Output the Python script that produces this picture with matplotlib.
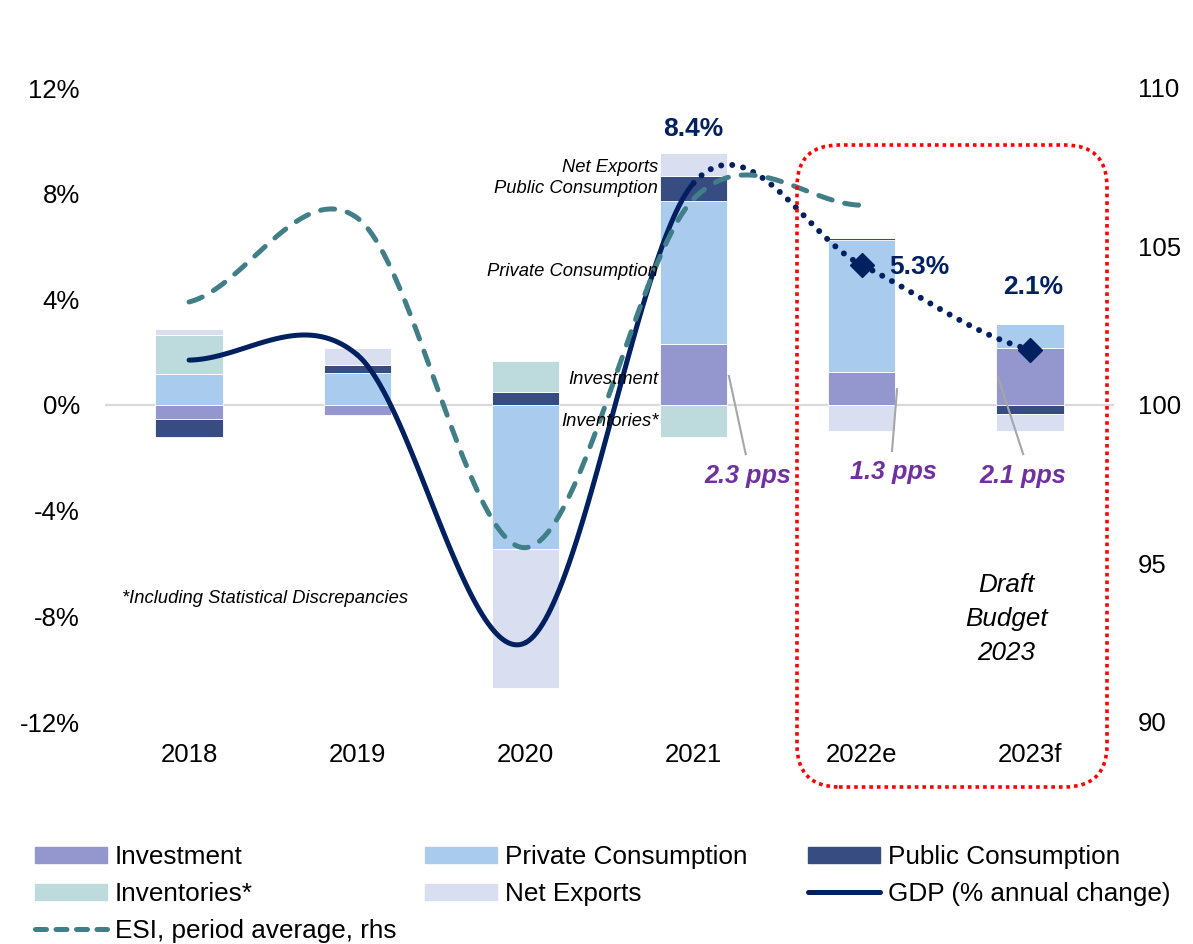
import numpy as np
import matplotlib
matplotlib.use("Agg")
import matplotlib.pyplot as plt
from matplotlib.patches import FancyBboxPatch, Patch
from matplotlib.lines import Line2D

plt.rcParams['font.family'] = ['Liberation Sans', 'DejaVu Sans']

# ---------------- data ----------------
categories = ["2018", "2019", "2020", "2021", "2022e", "2023f"]
investment = [-0.53, -0.38, 0.0, 2.3, 1.26, 2.15]
private_cons = [1.17, 1.21, -5.45, 5.44, 5.0, 0.9]
public_cons = [-0.68, 0.32, 0.5, 0.91, 0.05, -0.35]
inventories = [1.48, 0.0, 1.18, -1.23, 0.0, 0.0]
net_exports = [0.23, 0.63, -5.25, 0.88, -1.0, -0.65]
gdp = [1.7, 1.9, -9.0, 8.4, 5.3, 2.1]          # % annual change
esi = [103.25, 105.9, 95.5, 106.5, 106.3]       # ESI period average, 2018-2022e
left_ticks = [-12, -8, -4, 0, 4, 8, 12]
left_tick_labels = ["-12%", "-8%", "-4%", "0%", "4%", "8%", "12%"]
right_ticks = [90, 95, 100, 105, 110]
pps_labels = ["2.3 pps", "1.3 pps", "2.1 pps"]
gdp_labels = ["8.4%", "5.3%", "2.1%"]

# ---------------- colours ----------------
C_INV = "#9497CD"
C_PRIV = "#A9CCEE"
C_PUB = "#374C80"
C_INVT = "#BDDADD"
C_NX = "#D9DEF0"
C_GDP = "#002060"
C_ESI = "#417F88"
C_PURPLE = "#7030A0"


def smooth(xs, ys, n=60):
    """Excel-like smoothed line (Catmull-Rom / cubic Hermite) through the points."""
    xs = np.asarray(xs, float)
    ys = np.asarray(ys, float)
    k = len(ys)
    m = np.zeros(k)
    for i in range(k):
        if i == 0:
            m[i] = (ys[1] - ys[0]) / 2
        elif i == k - 1:
            m[i] = (ys[-1] - ys[-2]) / 2
        else:
            m[i] = (ys[i + 1] - ys[i - 1]) / 2
    segs = []
    for i in range(k - 1):
        t = np.linspace(0, 1, n)
        h00 = 2 * t**3 - 3 * t**2 + 1
        h10 = t**3 - 2 * t**2 + t
        h01 = -2 * t**3 + 3 * t**2
        h11 = t**3 - t**2
        yy = h00 * ys[i] + h10 * m[i] + h01 * ys[i + 1] + h11 * m[i + 1]
        xx = xs[i] + t * (xs[i + 1] - xs[i])
        segs.append((xx, yy))
    return segs


W, H = 1193, 944
fig = plt.figure(figsize=(W / 100, H / 100), dpi=100)
ax = fig.add_axes([105 / W, 1 - 722 / H, (1114 - 105) / W, (722 - 88) / H])
ax2 = ax.twinx()

x = np.arange(len(categories))
bw = 0.4
pos_bottom = np.zeros(len(x))
neg_bottom = np.zeros(len(x))
series = [(investment, C_INV), (private_cons, C_PRIV), (public_cons, C_PUB),
          (inventories, C_INVT), (net_exports, C_NX)]
for vals, col in series:
    vals = np.asarray(vals, float)
    bottoms = np.where(vals >= 0, pos_bottom, neg_bottom)
    ax.bar(x, vals, bw, bottom=bottoms, color=col, edgecolor="white",
           linewidth=0.6, zorder=2)
    pos_bottom = pos_bottom + np.where(vals > 0, vals, 0)
    neg_bottom = neg_bottom + np.where(vals < 0, vals, 0)

ax.axhline(0, color="#D9D9D9", lw=1.6, zorder=1)

# GDP line: solid for actuals, dotted for forecasts
segs = smooth(x, gdp)
for i, (xx, yy) in enumerate(segs):
    if i < 3:
        ax.plot(xx, yy, color=C_GDP, lw=3.6, solid_capstyle="round", zorder=4)
fx = np.concatenate([s[0] for s in segs[3:]])
fy = np.concatenate([s[1] for s in segs[3:]])
ax.plot(fx, fy, color=C_GDP, lw=4.3, linestyle=(0, (0.01, 1.85)),
        dash_capstyle="round", zorder=4)
ax.plot(x[4:], gdp[4:], linestyle="none", marker="D", ms=12, color=C_GDP, zorder=5)

# ESI on rhs
esegs = smooth(x[:len(esi)], esi)
ex = np.concatenate([s[0] for s in esegs])
ey = np.concatenate([s[1] for s in esegs])
ax2.plot(ex, ey, color=C_ESI, lw=3.6, linestyle=(0, (2.8, 2.6)),
         dash_capstyle="round", zorder=3)

# axes formatting
ax.set_xlim(-0.5, len(x) - 0.5)
ax.set_ylim(-12, 12)
ax2.set_ylim(90, 110)
ax.set_yticks(left_ticks)
ax.set_yticklabels(left_tick_labels)
ax2.set_yticks(right_ticks)
ax.set_xticks(x)
ax.set_xticklabels(categories)
for a in (ax, ax2):
    for s in a.spines.values():
        s.set_visible(False)
ax.tick_params(axis="both", length=0, labelsize=18.5)
ax.tick_params(axis="y", pad=18)
ax.tick_params(axis="x", pad=15)
ax2.tick_params(axis="y", length=0, labelsize=18.5, pad=17)

# annotations (drawn above lines)
tr = ax.transData
side = [("Net Exports", 9.0), ("Public Consumption", 8.18), ("Private Consumption", 5.04),
        ("Investment", 0.98), ("Inventories*", -0.64)]
for txt, yv in side:
    ax2.text(2.79, yv, txt, transform=tr, ha="right", va="center",
             fontsize=13.2, style="italic", zorder=10)
ax2.text(0.45, -7.31, "*Including Statistical Discrepancies", transform=tr,
         ha="center", va="center", fontsize=13.2, style="italic", zorder=10)

gdp_pos = [(3.0, 10.45), (4.34, 5.23), (5.02, 4.47)]
for (px, py), t in zip(gdp_pos, gdp_labels):
    ax2.text(px, py, t, transform=tr, ha="center", va="center", fontsize=19,
             fontweight="bold", color=C_GDP, zorder=10)

pps_pos = [(3.32, -2.69), (4.19, -2.54), (4.96, -2.69)]
leaders = [((3.21, 1.1), (3.31, -1.86)), ((4.21, 0.6), (4.18, -1.74)),
           ((4.81, 1.06), (4.96, -1.86))]
for (px, py), t, (p0, p1) in zip(pps_pos, pps_labels, leaders):
    ax2.text(px, py, t, transform=tr, ha="center", va="center", fontsize=18.2,
             fontweight="bold", style="italic", color=C_PURPLE, zorder=10)
    ax2.plot([p0[0], p1[0]], [p0[1], p1[1]], transform=tr, color="#A6A6A6",
             lw=1.5, zorder=6)

ax2.text(4.86, -8.1, "Draft\nBudget\n2023", transform=tr, ha="center",
         va="center", fontsize=18.7, style="italic", linespacing=1.52, zorder=10)

# red dotted rounded box (figure inches)
box = FancyBboxPatch((7.97, (H - 787) / 100), 3.10, 6.42,
                     boxstyle="round,pad=0,rounding_size=0.42",
                     transform=fig.dpi_scale_trans, fill=False,
                     edgecolor="#FF0000", lw=2.6, linestyle=(0, (1, 1.1)),
                     capstyle="butt", zorder=20)
fig.patches.append(box)

# legends: three columns
col_handles = [
    ([Patch(color=C_INV), Patch(color=C_INVT),
      Line2D([], [], color=C_ESI, lw=3.6, linestyle=(0, (2.2, 1.9)),
             dash_capstyle="round")],
     ["Investment", "Inventories*", "ESI, period average, rhs"], 35),
    ([Patch(color=C_PRIV), Patch(color=C_NX)],
     ["Private Consumption", "Net Exports"], 425),
    ([Patch(color=C_PUB), Line2D([], [], color=C_GDP, lw=3.6,
                                  solid_capstyle="round")],
     ["Public Consumption", "GDP (% annual change)"], 808),
]
for hs, ls, xpx in col_handles:
    lg = fig.legend(hs, ls, loc="upper left", bbox_to_anchor=(xpx / W, 1 - 845 / H),
                    frameon=False, fontsize=18.8, handlelength=2.75,
                    handleheight=0.6, handletextpad=0.3, labelspacing=0.5,
                    borderpad=0, borderaxespad=0)

fig.savefig("out.png", dpi=100)
